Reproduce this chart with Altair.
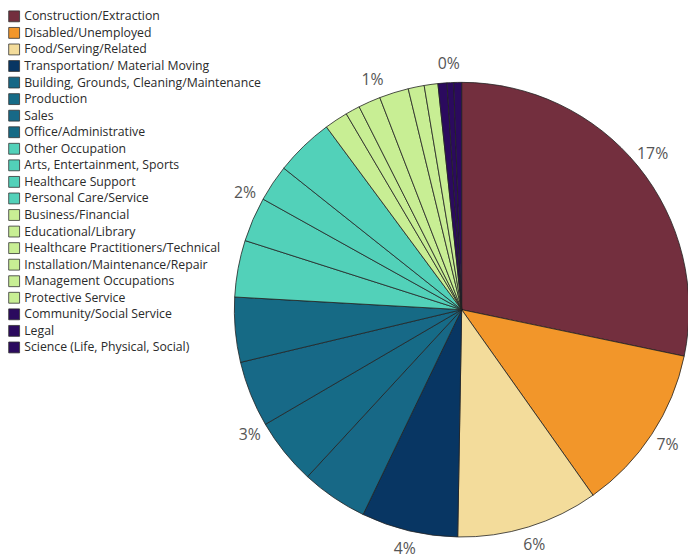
import altair as alt
import pandas as pd

categories = [
    "Construction/Extraction", "Disabled/Unemployed", "Food/Serving/Related",
    "Transportation/ Material Moving", "Building, Grounds, Cleaning/Maintenance",
    "Production", "Sales", "Office/Administrative", "Other Occupation",
    "Arts, Entertainment, Sports", "Healthcare Support", "Personal Care/Service",
    "Business/Financial", "Educational/Library", "Healthcare Practitioners/Technical",
    "Installation/Maintenance/Repair", "Management Occupations", "Protective Service",
    "Community/Social Service", "Legal", "Science (Life, Physical, Social)",
]
# slice sizes (degrees of the circle)
values = [101.8, 42.9, 36.3, 24.7, 17.0, 17.0, 16.9, 16.6, 14.5, 11.4, 9.4, 15.0,
          6.0, 3.7, 5.7, 7.5, 4.1, 3.5, 2.3, 1.7, 2.0]
groups = ["g1", "g2", "g3", "g4", "g5", "g5", "g5", "g5", "g6", "g6", "g6", "g6",
          "g7", "g7", "g7", "g7", "g7", "g7", "g8", "g8", "g8"]
colors = ["#732F3E", "#F2962A", "#F3DC9B", "#083663", "#176886", "#166B87",
          "#176987", "#166A85", "#52D1B9", "#52D1B9", "#52D1B9", "#52D1B9",
          "#C8EE94", "#C8EE94", "#C8EE94", "#C8EE94", "#C8EE94", "#C8EE94",
          "#2B0A5E", "#2B0A5E", "#2B0A5E"]
group_names = ["g1", "g2", "g3", "g4", "g5", "g6", "g7", "g8"]
group_labels = ["17%", "7%", "6%", "4%", "3%", "2%", "1%", "0%"]

df = pd.DataFrame({"category": categories, "value": values, "group": groups,
                   "order": list(range(len(categories)))})
gsum = df.groupby("group", sort=False)["value"].sum()
gdf = pd.DataFrame({"group": group_names,
                    "value": [gsum[g] for g in group_names],
                    "label": group_labels,
                    "order": list(range(len(group_names)))})

CX, CY, R = 459, 302, 230

pie = alt.Chart(df).mark_arc(radius=R, stroke="#222222", strokeWidth=0.8).encode(
    theta=alt.Theta("value:Q", stack=True, scale=alt.Scale(domain=[0, 360])),
    order=alt.Order("order:Q"),
    color=alt.Color("category:N",
                    scale=alt.Scale(domain=categories, range=colors),
                    sort=categories,
                    legend=alt.Legend(title=None, orient="none", legendX=0, legendY=-1,
                                      symbolType="square", symbolSize=121,
                                      symbolStrokeColor="#333333", symbolStrokeWidth=0.8,
                                      labelFont="Open Sans", labelFontSize=12.4,
                                      labelColor="#2a2a2a", rowPadding=1.75,
                                      labelOffset=4, padding=0, labelLimit=400)),
    x=alt.value(CX), y=alt.value(CY),
)

labels = alt.Chart(gdf).mark_text(radius=249, font="Open Sans", fontSize=16,
                                  color="#555555").encode(
    theta=alt.Theta("value:Q", stack=True, scale=alt.Scale(domain=[0, 360])),
    order=alt.Order("order:Q"),
    text="label:N",
    x=alt.value(CX), y=alt.value(CY),
)

chart = alt.layer(pie, labels).properties(
    width=688, height=550, padding=0, autosize=alt.AutoSizeParams(type="none")
).configure_view(stroke=None)

chart.save("out.html", embed_options={"renderer": "svg", "actions": False})
